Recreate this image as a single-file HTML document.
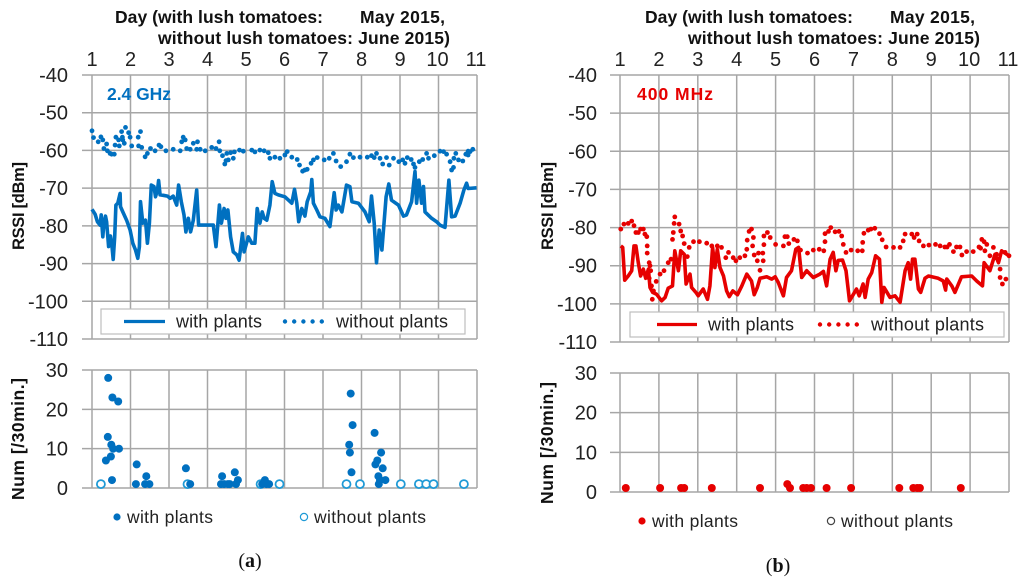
<!DOCTYPE html>
<html lang="en">
<head>
<meta charset="utf-8">
<title>RSSI charts</title>
<style>
html,body{margin:0;padding:0;background:#fff;}
svg{display:block;filter:blur(0.35px);}
text{font-family:"Liberation Sans",sans-serif;}
</style>
</head>
<body>
<svg id="figure" xmlns="http://www.w3.org/2000/svg" width="1024" height="586" viewBox="0 0 1024 586"></svg>
<script>
const dayTicks = [1,2,3,4,5,6,7,8,9,10,11];
const rssiTicks = [-40,-50,-60,-70,-80,-90,-100,-110];
const numTicks = [0,10,20,30];

const ghzWithPlants = [[1.00,-75.6],[1.08,-76.9],[1.14,-78.9],[1.21,-79.8],[1.24,-77.1],[1.28,-82.9],[1.31,-79.3],[1.35,-77.4],[1.38,-78.9],[1.43,-85.5],[1.48,-82.7],[1.52,-85.5],[1.55,-88.9],[1.59,-82.9],[1.62,-74.5],[1.67,-74.0],[1.73,-71.4],[1.74,-74.9],[1.80,-76.3],[1.90,-78.5],[1.99,-81.1],[2.06,-84.6],[2.13,-86.4],[2.19,-88.6],[2.23,-85.5],[2.26,-73.6],[2.32,-79.3],[2.39,-78.5],[2.44,-84.6],[2.49,-79.3],[2.54,-69.2],[2.61,-69.6],[2.65,-72.3],[2.70,-70.5],[2.73,-68.0],[2.77,-71.8],[2.85,-71.9],[2.96,-72.1],[3.03,-72.7],[3.11,-72.1],[3.20,-74.5],[3.25,-69.2],[3.32,-73.6],[3.39,-77.1],[3.44,-81.6],[3.50,-78.0],[3.56,-81.6],[3.63,-78.5],[3.72,-70.5],[3.77,-79.8],[3.86,-79.8],[4.15,-79.8],[4.22,-85.5],[4.31,-74.5],[4.36,-79.3],[4.43,-75.4],[4.48,-78.0],[4.53,-75.8],[4.60,-82.9],[4.67,-86.9],[4.76,-87.7],[4.82,-89.1],[4.91,-82.0],[4.95,-86.9],[5.06,-82.9],[5.15,-84.6],[5.23,-84.6],[5.29,-75.4],[5.36,-79.3],[5.42,-76.3],[5.47,-78.0],[5.54,-78.5],[5.62,-74.5],[5.68,-68.3],[5.75,-71.4],[5.84,-71.8],[6.01,-72.3],[6.19,-74.0],[6.26,-70.3],[6.32,-74.0],[6.37,-78.9],[6.45,-75.4],[6.53,-77.4],[6.59,-73.6],[6.68,-71.0],[6.71,-67.7],[6.75,-74.0],[6.84,-75.8],[6.92,-77.6],[7.05,-78.0],[7.18,-80.2],[7.29,-71.2],[7.34,-75.8],[7.40,-74.5],[7.49,-76.3],[7.61,-69.2],[7.70,-69.6],[7.75,-73.6],[7.92,-74.0],[8.09,-76.3],[8.20,-78.9],[8.26,-72.1],[8.33,-79.3],[8.39,-89.8],[8.46,-81.1],[8.53,-86.4],[8.64,-72.3],[8.71,-68.9],[8.78,-73.2],[8.96,-74.5],[9.09,-77.4],[9.17,-77.1],[9.30,-73.6],[9.39,-65.6],[9.43,-74.0],[9.49,-67.9],[9.56,-74.0],[9.61,-69.6],[9.65,-76.3],[9.82,-78.0],[9.95,-78.9],[10.04,-79.8],[10.17,-80.4],[10.27,-67.9],[10.34,-77.6],[10.43,-77.4],[10.56,-74.0],[10.66,-70.5],[10.73,-68.7],[10.77,-70.1],[10.99,-69.9]];

const ghzWithoutPlants = [[1.00,-54.8],[1.04,-56.6],[1.16,-57.7],[1.23,-56.4],[1.28,-57.2],[1.31,-59.5],[1.38,-58.3],[1.40,-60.1],[1.47,-60.8],[1.51,-61.0],[1.58,-61.0],[1.60,-58.6],[1.62,-56.5],[1.71,-58.8],[1.69,-57.2],[1.77,-55.0],[1.79,-56.5],[1.84,-58.1],[1.80,-57.2],[1.87,-53.9],[1.95,-55.3],[1.99,-56.5],[2.03,-58.8],[2.20,-56.5],[2.26,-55.0],[2.21,-58.8],[2.29,-59.2],[2.38,-61.7],[2.44,-60.8],[2.52,-59.5],[2.64,-60.1],[2.74,-58.6],[2.79,-59.0],[2.92,-60.1],[3.11,-59.7],[3.29,-60.1],[3.33,-57.7],[3.37,-56.5],[3.42,-57.2],[3.46,-59.5],[3.55,-59.7],[3.63,-58.1],[3.74,-57.7],[3.72,-59.7],[3.81,-59.7],[3.94,-60.1],[4.11,-59.2],[4.22,-59.5],[4.30,-57.7],[4.32,-60.1],[4.39,-61.4],[4.50,-60.8],[4.60,-60.6],[4.70,-60.4],[4.83,-59.9],[4.93,-60.2],[5.15,-59.9],[5.23,-60.4],[5.36,-59.9],[5.47,-60.1],[5.58,-60.6],[5.62,-62.1],[5.75,-61.8],[5.88,-62.1],[4.48,-62.7],[4.45,-63.6],[4.54,-62.5],[4.67,-62.1],[6.01,-61.2],[6.07,-60.3],[6.19,-61.8],[6.33,-62.4],[6.39,-63.9],[6.47,-65.5],[6.53,-65.2],[6.59,-65.0],[6.69,-63.4],[6.75,-62.5],[6.85,-61.9],[7.03,-62.5],[7.16,-62.1],[7.27,-60.8],[7.34,-62.8],[7.46,-64.3],[7.61,-63.0],[7.70,-61.0],[7.79,-61.9],[7.96,-61.8],[8.15,-61.8],[8.26,-61.4],[8.33,-61.9],[8.39,-60.8],[8.48,-62.1],[8.55,-63.6],[8.65,-61.9],[8.72,-63.9],[8.83,-62.1],[8.97,-63.0],[9.07,-62.5],[9.13,-63.4],[9.19,-61.9],[9.29,-62.4],[9.35,-63.6],[9.39,-64.5],[9.50,-63.0],[9.59,-62.4],[9.69,-60.8],[9.74,-62.1],[9.89,-61.4],[10.04,-60.2],[10.13,-60.3],[10.21,-61.0],[10.30,-63.0],[10.40,-62.1],[10.45,-60.8],[10.34,-65.2],[10.39,-64.5],[10.52,-62.5],[10.63,-62.8],[10.71,-61.0],[10.77,-61.2],[10.82,-60.3],[10.89,-59.7],[10.77,-60.2]];

const mhzWithPlants = [[1.02,-84.8],[1.07,-85.2],[1.12,-93.8],[1.21,-92.7],[1.30,-91.3],[1.36,-84.8],[1.41,-84.8],[1.47,-89.2],[1.53,-92.7],[1.60,-90.9],[1.66,-93.3],[1.73,-90.9],[1.77,-95.7],[1.84,-97.0],[1.94,-97.5],[2.07,-99.2],[2.16,-98.3],[2.24,-95.9],[2.35,-95.3],[2.41,-86.1],[2.50,-91.3],[2.56,-86.1],[2.65,-87.0],[2.70,-94.8],[2.80,-92.2],[2.84,-95.7],[2.95,-97.0],[3.01,-97.9],[3.14,-96.1],[3.25,-98.8],[3.31,-95.3],[3.38,-85.2],[3.44,-90.5],[3.50,-85.7],[3.57,-90.5],[3.66,-92.7],[3.74,-96.6],[3.81,-98.1],[3.90,-96.6],[4.02,-97.6],[4.13,-95.3],[4.26,-92.2],[4.38,-94.0],[4.45,-97.6],[4.53,-95.7],[4.60,-93.3],[4.77,-92.9],[4.90,-93.5],[4.99,-92.9],[5.07,-94.4],[5.20,-97.9],[5.28,-93.1],[5.41,-91.3],[5.52,-85.7],[5.59,-85.2],[5.67,-93.1],[5.80,-91.3],[5.97,-93.1],[6.14,-92.2],[6.23,-91.5],[6.31,-95.3],[6.40,-88.3],[6.48,-86.5],[6.55,-91.3],[6.61,-88.6],[6.72,-88.5],[6.81,-91.3],[6.90,-99.2],[7.00,-97.5],[7.08,-96.1],[7.15,-97.9],[7.25,-94.8],[7.30,-98.3],[7.38,-93.5],[7.47,-91.8],[7.57,-87.4],[7.67,-88.3],[7.73,-99.6],[7.79,-95.7],[7.94,-98.3],[8.07,-97.9],[8.20,-99.6],[8.33,-91.3],[8.41,-89.2],[8.47,-93.5],[8.52,-88.3],[8.58,-88.3],[8.67,-96.1],[8.73,-97.0],[8.84,-93.3],[8.93,-92.7],[9.18,-93.3],[9.31,-94.0],[9.37,-96.4],[9.40,-93.5],[9.53,-95.3],[9.61,-97.0],[9.78,-92.9],[10.04,-92.7],[10.17,-94.0],[10.32,-95.3],[10.36,-89.2],[10.51,-91.3],[10.64,-87.0],[10.73,-89.2],[10.81,-86.1],[10.94,-87.0],[11.00,-87.4]];

const mhzWithoutPlants = [[1.02,-80.4],[1.10,-79.1],[1.21,-78.9],[1.30,-78.3],[1.36,-79.5],[1.41,-81.3],[1.47,-81.3],[1.53,-80.4],[1.60,-80.4],[1.64,-81.7],[1.69,-82.4],[1.70,-84.8],[1.70,-86.7],[1.75,-89.2],[1.77,-90.0],[1.79,-91.3],[1.75,-93.3],[1.81,-95.3],[1.83,-98.8],[1.86,-96.6],[1.93,-94.1],[2.03,-92.2],[2.13,-91.3],[2.24,-89.2],[2.31,-88.3],[2.35,-83.1],[2.37,-81.3],[2.41,-77.2],[2.39,-78.9],[2.52,-79.1],[2.56,-80.9],[2.61,-82.2],[2.65,-84.2],[2.78,-85.2],[2.73,-87.6],[2.89,-83.7],[3.04,-83.7],[3.23,-84.1],[3.36,-84.8],[3.50,-84.8],[3.61,-85.2],[3.72,-87.9],[3.79,-86.5],[3.91,-87.9],[3.98,-88.7],[4.08,-87.9],[4.21,-87.4],[4.26,-85.7],[4.27,-83.3],[4.32,-81.0],[4.38,-80.4],[4.43,-82.6],[4.41,-84.8],[4.45,-87.2],[4.56,-86.7],[4.67,-86.7],[4.53,-88.7],[4.68,-88.7],[4.60,-91.2],[4.70,-84.5],[4.70,-82.2],[4.79,-81.3],[4.86,-82.6],[5.00,-84.4],[5.20,-84.8],[5.24,-82.4],[5.30,-82.4],[5.34,-84.2],[5.47,-83.1],[5.56,-83.5],[5.64,-85.9],[5.82,-86.7],[5.97,-85.9],[6.12,-85.7],[6.24,-86.1],[6.27,-83.7],[6.27,-81.6],[6.36,-81.0],[6.42,-80.0],[6.53,-81.1],[6.63,-81.0],[6.70,-82.2],[6.74,-84.4],[6.81,-86.5],[6.94,-85.9],[7.11,-86.1],[7.23,-86.1],[7.24,-83.9],[7.27,-81.5],[7.38,-80.7],[7.45,-80.4],[7.55,-80.2],[7.67,-81.6],[7.74,-83.2],[7.84,-85.1],[8.03,-85.2],[8.20,-85.2],[8.28,-83.5],[8.33,-81.7],[8.50,-81.7],[8.56,-82.6],[8.64,-81.7],[8.69,-83.5],[8.80,-84.8],[8.94,-84.6],[9.11,-84.4],[9.23,-84.8],[9.35,-85.1],[9.41,-85.1],[9.47,-84.4],[9.57,-86.3],[9.65,-85.1],[9.74,-85.1],[9.79,-87.2],[9.91,-86.3],[10.08,-86.3],[10.23,-85.1],[10.30,-83.1],[10.36,-83.7],[10.43,-84.4],[10.27,-85.4],[10.38,-86.1],[10.51,-87.4],[10.60,-85.2],[10.68,-87.0],[10.77,-90.9],[10.77,-93.1],[10.83,-94.8],[10.92,-93.5],[11.00,-87.4],[10.90,-86.5]];

const ghzNumWith = [[1.42,28],[1.53,23],[1.68,22],[1.41,13],[1.50,11],[1.55,10],[1.70,10],[1.49,8],[1.36,7],[1.52,2],[2.16,6],[2.14,1],[2.41,3],[2.38,1],[2.49,1],[3.44,5],[3.55,1],[4.38,3],[4.35,1],[4.43,1],[4.53,1],[4.58,1],[4.71,4],[4.79,2],[4.74,1],[5.49,2],[5.42,1],[5.53,1],[5.60,1],[7.72,24],[7.77,16],[7.68,11],[7.70,9],[7.74,4],[8.34,14],[8.51,9],[8.41,7],[8.36,6],[8.55,5],[8.44,3],[8.62,2],[8.48,2],[8.45,1]];
const ghzNumWithout = [[1.23,1],[3.48,1],[5.38,1],[5.87,1],[7.61,1],[7.96,1],[9.02,1],[9.49,1],[9.68,1],[9.87,1],[10.66,1]];
const mhzNumWith = [[1.15,1],[2.03,1],[2.57,1],[2.65,1],[3.36,1],[4.60,1],[5.30,2],[5.37,1],[5.71,1],[5.80,1],[5.91,1],[6.31,1],[6.94,1],[8.18,1],[8.54,1],[8.64,1],[8.71,1],[9.76,1]];
const mhzNumWithout = [];

const NS = 'http://www.w3.org/2000/svg';
const figure = document.getElementById('figure');

function mk(parent, tag, attrs, txt) {
  const el = document.createElementNS(NS, tag);
  for (const k in attrs) el.setAttribute(k, attrs[k]);
  if (txt !== undefined) el.textContent = txt;
  parent.appendChild(el);
  return el;
}

function gridLine(parent, x1, y1, x2, y2, name) {
  const el = mk(parent, 'line', {x1: x1, y1: y1, x2: x2, y2: y2, stroke: '#a6a6a6', 'stroke-width': 1.5});
  
  
  return el;
}

function label(parent, x, y, str, size, anchor, weight, fill, name, fit) {
  const attrs = {x: x, y: y, 'font-size': size, 'text-anchor': anchor, 'font-weight': weight, fill: fill};
  if (fit) { attrs.textLength = fit; attrs.lengthAdjust = 'spacing'; }
  const el = mk(parent, 'text', attrs, str);
  
  
  return el;
}

function drawPanel(p) {
  const g = mk(figure, 'g', {});
  
  

  const xScale = d => p.x0 + (d - 1) * (p.x1 - p.x0) / 10;
  const yTop = v => p.top0 + (-40 - v) * (p.top1 - p.top0) / 70;
  const yLow = v => p.low0 - v * (p.low0 - p.low1) / 30;

  label(g, p.tx, 23, 'Day (with lush tomatoes:', 17.5, 'start', 'bold', '#111', 'x-axis-title-line-1', 208);
  label(g, p.tx + 245, 23, 'May 2015,', 17.5, 'start', 'bold', '#111', 'x-axis-title-date-1', 85);
  label(g, p.tx + 43, 44, 'without lush tomatoes: June 2015)', 17.5, 'start', 'bold', '#111', 'x-axis-title-line-2', 292);

  dayTicks.forEach(d => {
    label(g, xScale(d) - (d >= 10 ? 1 : 0), 66, String(d), 20, 'middle', 'normal', '#222', 'day-tick-label-' + d);
    gridLine(g, xScale(d), p.top0, xScale(d), p.top1, 'day-gridline-top-' + d);
    gridLine(g, xScale(d), p.low1, xScale(d), p.low0, 'day-gridline-bottom-' + d);
  });

  rssiTicks.forEach(v => {
    gridLine(g, p.x0 - 10, yTop(v), p.x1, yTop(v), 'rssi-gridline-' + Math.abs(v));
    label(g, p.labelX, yTop(v) + 7, String(v), 20, 'end', 'normal', '#222', 'rssi-tick-label-' + Math.abs(v));
  });
  numTicks.forEach(v => {
    gridLine(g, p.x0 - 10, yLow(v), p.x1, yLow(v), 'num-gridline-' + v);
    label(g, p.labelX, yLow(v) + 7, String(v), 20, 'end', 'normal', '#222', 'num-tick-label-' + v);
  });

  const t1 = label(g, 0, 0, 'RSSI [dBm]', 16.5, 'middle', 'bold', '#111', 'rssi-axis-title', 88);
  t1.setAttribute('transform', 'translate(' + p.titleX + ',206) rotate(-90)');
  const t2 = label(g, 0, 0, 'Num [/30min.]', 17.5, 'middle', 'bold', '#111', 'num-axis-title', 122);
  t2.setAttribute('transform', 'translate(' + p.titleX + ',' + p.numTitleY + ') rotate(-90)');

  label(g, p.x0 + p.bandDx, 100, p.band, 17.5, 'start', 'bold', p.color, 'band-label', p.bandW);

  const line = mk(g, 'polyline', {
    points: p.withSeries.map(q => xScale(q[0]).toFixed(1) + ',' + yTop(q[1]).toFixed(1)).join(' '),
    fill: 'none', stroke: p.color, 'stroke-width': 3.6, 'stroke-linejoin': 'round'
  });
  
  

  p.withoutSeries.forEach(q => {
    const dot = mk(g, 'circle', {cx: xScale(q[0]).toFixed(1), cy: yTop(q[1]).toFixed(1), r: 2.4, fill: p.color});
    
    
  });

  const box = mk(g, 'rect', {x: p.leg.x, y: p.leg.y, width: p.leg.w, height: 25, fill: '#fff', stroke: '#bdbdbd', 'stroke-width': 1.2});
  
  
  const ly = p.leg.y + 12.5;
  const sample = mk(g, 'line', {x1: p.leg.l0, x2: p.leg.l1, y1: ly, y2: ly, stroke: p.color, 'stroke-width': 3.2});
  
  
  label(g, p.leg.t0, ly + 6, 'with plants', 18, 'start', 'normal', '#222', 'legend-label-with-plants', p.leg.t0w);
  [0, 1, 2, 3, 4].forEach(i => {
    const c = mk(g, 'circle', {cx: p.leg.d0 + i * p.leg.dd, cy: ly, r: 2.2, fill: p.color});
    
    
  });
  label(g, p.leg.t1, ly + 6, 'without plants', 18, 'start', 'normal', '#222', 'legend-label-without-plants', p.leg.t1w);

  p.numWithout.forEach(q => {
    const c = mk(g, 'circle', {cx: xScale(q[0]).toFixed(1), cy: yLow(q[1]).toFixed(1), r: 4, fill: '#fff', stroke: p.openColor, 'stroke-width': 1.8});
    
    
  });
  p.numWith.forEach(q => {
    const c = mk(g, 'circle', {cx: xScale(q[0]).toFixed(1), cy: yLow(q[1]).toFixed(1), r: 4, fill: p.color});
    
    
  });

  const m1 = mk(g, 'circle', {cx: p.low.d0, cy: p.low.y, r: 3.6, fill: p.color});
  
  
  label(g, p.low.t0, p.low.y + 6, 'with plants', 17.5, 'start', 'normal', '#222', 'count-legend-label-with-plants', 86);
  const m2 = mk(g, 'circle', {cx: p.low.d1, cy: p.low.y, r: 3.6, fill: '#fff', stroke: p.openColor, 'stroke-width': 1.2});
  
  
  label(g, p.low.t1, p.low.y + 6, 'without plants', 17.5, 'start', 'normal', '#222', 'count-legend-label-without-plants', 112);

  const cap = mk(g, 'text', {x: p.capX, y: p.capY, 'font-size': 20, 'text-anchor': 'middle', fill: '#111', style: 'font-family:\'Liberation Serif\',serif'});
  
  
  mk(cap, 'tspan', {}, '(');
  mk(cap, 'tspan', {'font-weight': 'bold'}, p.capLetter);
  mk(cap, 'tspan', {}, ')');
}

drawPanel({
  id: 'ghz', x0: 92, x1: 477, top0: 75, top1: 339, low0: 488, low1: 370,
  tx: 115, labelX: 68, titleX: 24, numTitleY: 439, band: '2.4 GHz', bandDx: 15, bandW: 64,
  color: '#0070c0', openColor: '#1f9ad6',
  withSeries: ghzWithPlants, withoutSeries: ghzWithoutPlants,
  numWith: ghzNumWith, numWithout: ghzNumWithout,
  leg: {x: 101, y: 309, w: 364, l0: 124, l1: 165, t0: 176, t0w: 86, d0: 285, dd: 9.2, t1: 336, t1w: 112},
  low: {d0: 117, t0: 127, d1: 304, t1: 314, y: 517},
  capX: 250, capY: 567, capLetter: 'a'
});

drawPanel({
  id: 'mhz', x0: 620, x1: 1009, top0: 75, top1: 342, low0: 492, low1: 373,
  tx: 645, labelX: 597, titleX: 553, numTitleY: 443, band: '400 MHz', bandDx: 17, bandW: 76,
  color: '#e60000', openColor: '#444444',
  withSeries: mhzWithPlants, withoutSeries: mhzWithoutPlants,
  numWith: mhzNumWith, numWithout: mhzNumWithout,
  leg: {x: 630, y: 312, w: 374, l0: 657, l1: 697, t0: 708, t0w: 86, d0: 820, dd: 9.2, t1: 871, t1w: 113},
  low: {d0: 642, t0: 652, d1: 831, t1: 841, y: 521},
  capX: 778, capY: 572, capLetter: 'b'
});
</script>
</body>
</html>
